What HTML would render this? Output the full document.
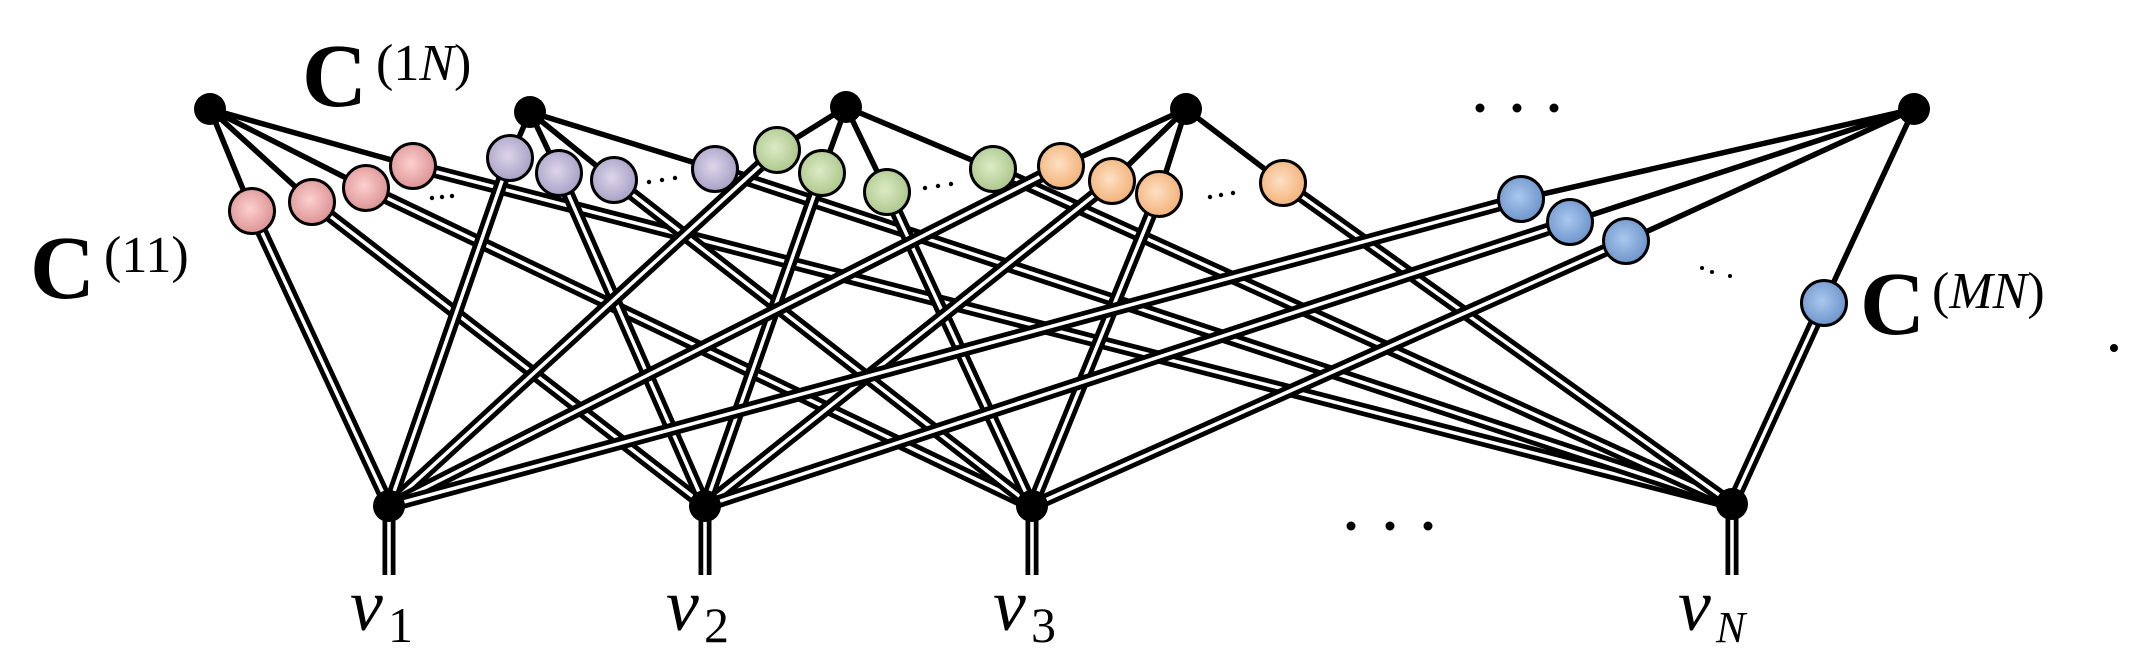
<!DOCTYPE html>
<html><head><meta charset="utf-8"><style>
html,body{margin:0;padding:0;background:#fff;}
svg{display:block;}
</style></head><body>
<svg width="2139" height="670" viewBox="0 0 2139 670" xmlns="http://www.w3.org/2000/svg">
<defs>
<radialGradient id="gp" cx="0.45" cy="0.45" r="0.6"><stop offset="0" stop-color="#fdd0d0"/><stop offset="1" stop-color="#d98e8e"/></radialGradient>
<radialGradient id="gu" cx="0.45" cy="0.45" r="0.6"><stop offset="0" stop-color="#ddd6ea"/><stop offset="1" stop-color="#a39cc2"/></radialGradient>
<radialGradient id="gg" cx="0.45" cy="0.45" r="0.6"><stop offset="0" stop-color="#dcebc6"/><stop offset="1" stop-color="#a8c487"/></radialGradient>
<radialGradient id="go" cx="0.45" cy="0.45" r="0.6"><stop offset="0" stop-color="#fde0c4"/><stop offset="1" stop-color="#f2ae72"/></radialGradient>
<radialGradient id="gb" cx="0.45" cy="0.45" r="0.6"><stop offset="0" stop-color="#aac8ee"/><stop offset="1" stop-color="#6890c8"/></radialGradient>
</defs>
<g id="dbl" fill="none" stroke-linecap="butt"></g>
<g id="sgl" stroke="#000" stroke-width="5.5"></g>
<g id="circ"></g>
<g id="dots" fill="#000">
<circle cx="432" cy="198" r="2.2"/><circle cx="442" cy="197" r="2.2"/><circle cx="452" cy="196" r="2.2"/>
<circle cx="649" cy="182" r="2.2"/><circle cx="662" cy="180" r="2.2"/><circle cx="675" cy="178" r="2.2"/>
<circle cx="925" cy="188" r="2.2"/><circle cx="938" cy="186" r="2.2"/><circle cx="951" cy="184" r="2.2"/>
<circle cx="1210" cy="197" r="2.2"/><circle cx="1221" cy="195" r="2.2"/><circle cx="1233" cy="193" r="2.2"/>
<circle cx="1702" cy="268" r="2"/><circle cx="1712" cy="272" r="2"/><circle cx="1730" cy="276" r="2"/>
<circle cx="1480" cy="108" r="4.5"/><circle cx="1517" cy="108" r="4.5"/><circle cx="1554" cy="108" r="4.5"/>
<circle cx="1351" cy="526" r="4.5"/><circle cx="1390" cy="526" r="4.5"/><circle cx="1428" cy="526" r="4.5"/>
<circle cx="2114" cy="348" r="4"/>
</g>
<g font-family="Liberation Serif, serif" fill="#000">
<text x="30" y="298" font-size="90" font-weight="bold">C</text>
<text x="104" y="272" font-size="52">(11)</text>
<text x="302" y="106" font-size="90" font-weight="bold">C</text>
<text x="376" y="80" font-size="52">(1<tspan font-style="italic">N</tspan>)</text>
<text x="1860" y="334" font-size="90" font-weight="bold">C</text>
<text x="1932" y="308" font-size="52">(<tspan font-style="italic">MN</tspan>)</text>
<text x="350" y="630" font-size="74" font-style="italic">v</text><text x="388" y="642" font-size="50">1</text>
<text x="666" y="630" font-size="74" font-style="italic">v</text><text x="704" y="642" font-size="50">2</text>
<text x="993" y="630" font-size="74" font-style="italic">v</text><text x="1031" y="642" font-size="50">3</text>
<text x="1678" y="630" font-size="74" font-style="italic">v</text><text x="1716" y="642" font-size="44" font-style="italic">N</text>
</g>
</svg>
<script>
const T=[[210,109],[530,112],[846,107],[1186,109],[1914,109]];
const B=[[389,506],[705,506],[1032,506],[1732,504]];
const C=[
 [[252,211],[312,202],[366,188],[413,166]],
 [[510,158],[559,173],[614,180],[715,169]],
 [[777,150],[822,173],[887,192],[993,169]],
 [[1061,166],[1112,181],[1159,194],[1283,183]],
 [[1521,199],[1570,222],[1626,241],[1824,303]]];
const F=['gp','gu','gg','go','gb'];
const ns='http://www.w3.org/2000/svg';
function el(p,t,a){const e=document.createElementNS(ns,t);for(const k in a)e.setAttribute(k,a[k]);document.getElementById(p).appendChild(e);return e;}
function dl(x1,y1,x2,y2){el('dbl','line',{x1,y1,x2,y2,stroke:'#000','stroke-width':13});el('dbl','line',{x1,y1,x2,y2,stroke:'#fff','stroke-width':3.5});}
for(let i=0;i<5;i++)for(let j=0;j<4;j++){const c=C[i][j];dl(c[0],c[1],B[j][0],B[j][1]);}
for(const b of B)dl(b[0],b[1],b[0],575);
for(let i=0;i<5;i++)for(let j=0;j<4;j++){const c=C[i][j];el('sgl','line',{x1:T[i][0],y1:T[i][1],x2:c[0],y2:c[1]});}
for(let i=0;i<5;i++)for(let j=0;j<4;j++){const c=C[i][j];el('circ','circle',{cx:c[0],cy:c[1],r:22.5,fill:'url(#'+F[i]+')',stroke:'#000','stroke-width':3});}
for(const t of T)el('circ','circle',{cx:t[0],cy:t[1],r:16,fill:'#000'});
for(const b of B)el('circ','circle',{cx:b[0],cy:b[1],r:16,fill:'#000'});
</script>
</body></html>
